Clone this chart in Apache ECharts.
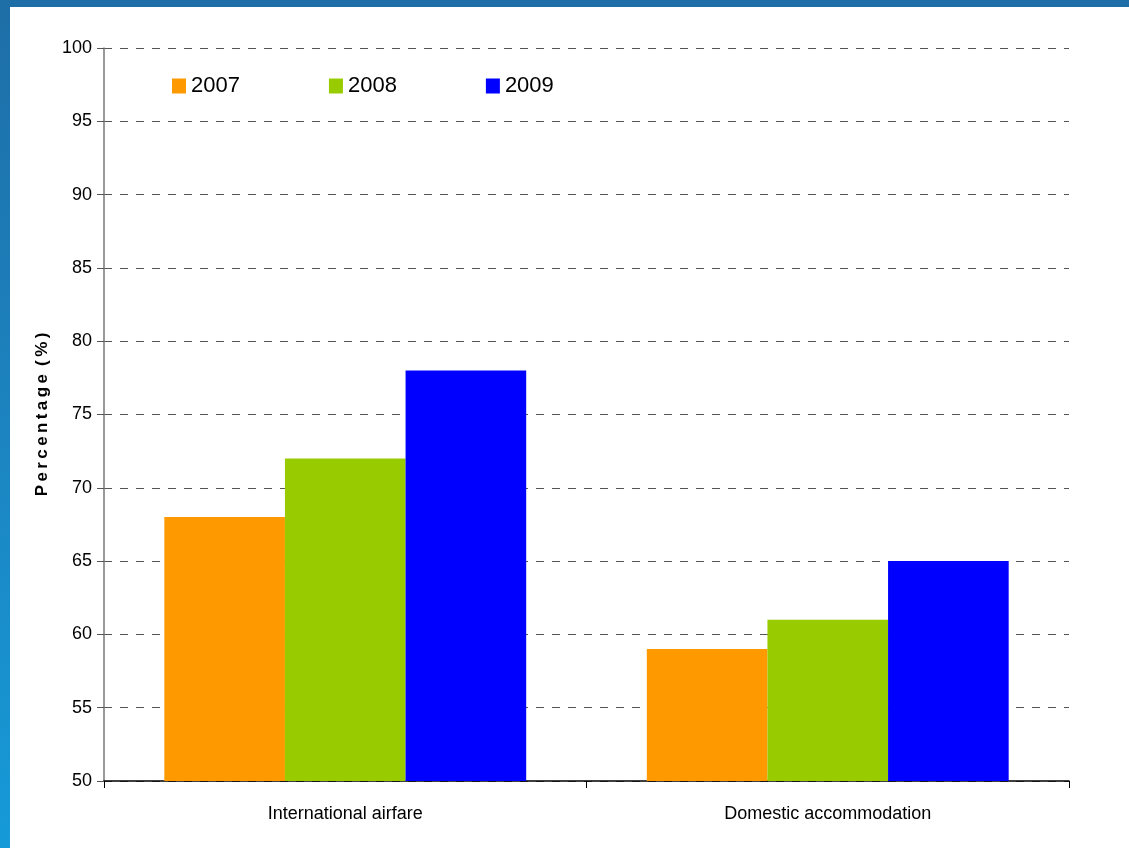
<!DOCTYPE html>
<html>
<head>
<meta charset="utf-8">
<script src="https://cdn.jsdelivr.net/npm/echarts@6/dist/echarts.min.js"></script>
<style>
  html, body { margin: 0; padding: 0; background: #fff; }
  #frameTop { position: absolute; left: 0; top: 0; width: 1129px; height: 7px; background: #1e6ea7; }
  #frameLeft { position: absolute; left: 0; top: 0; width: 10px; height: 848px;
    background: linear-gradient(to bottom, #1e6ea7 0%, #1c84c0 50%, #169ad8 100%); }
  #chart { position: absolute; left: 0; top: 0; width: 1129px; height: 848px; }
</style>
</head>
<body>
<div id="chart"></div>
<div id="frameTop"></div>
<div id="frameLeft"></div>
<script>
// Share of respondents by item and year
const categories = ['International airfare', 'Domestic accommodation'];
const seriesNames = ['2007', '2008', '2009'];
const values2007 = [68, 59];
const values2008 = [72, 61];
const values2009 = [78, 65];
const colors = ['#ff9900', '#99cc00', '#0000ff'];

const font = "'Liberation Sans', Arial, sans-serif";
const chart = echarts.init(document.getElementById('chart'));

const seriesData = [values2007, values2008, values2009];

chart.setOption({
  animation: false,
  color: colors,
  grid: { left: 104, right: 60, top: 48, bottom: 67, containLabel: false },
  legend: {
    data: seriesNames,
    left: 167, top: 70,
    itemWidth: 14, itemHeight: 15, itemGap: 89,
    icon: 'rect',
    textStyle: { fontFamily: font, fontSize: 22, color: '#000' }
  },
  xAxis: {
    type: 'category',
    data: categories,
    axisLine: { lineStyle: { color: '#000', width: 1.5 } },
    axisTick: { show: true, length: 7, lineStyle: { color: '#000' } },
    axisLabel: { fontFamily: font, fontSize: 18, color: '#000', margin: 24 }
  },
  yAxis: {
    type: 'value',
    min: 50, max: 100, interval: 5,
    name: 'P\u2009e\u2009r\u2009c\u2009e\u2009n\u2009t\u2009a\u2009g\u2009e\u2009 (\u2009%\u2009)',
    nameLocation: 'middle',
    nameGap: 50,
    nameTextStyle: { fontFamily: font, fontSize: 17, fontWeight: 'bold', color: '#000' },
    axisLine: { show: true, lineStyle: { color: '#777', width: 1.5 } },
    axisTick: { show: true, length: 7, lineStyle: { color: '#555' } },
    axisLabel: { fontFamily: font, fontSize: 18, color: '#000', margin: 12 },
    splitLine: { lineStyle: { color: '#555', type: [8, 8], width: 1 } }
  },
  series: seriesNames.map((n, i) => ({
    name: n,
    type: 'bar',
    data: seriesData[i],
    barGap: '0%',
    barCategoryGap: '25%'
  }))
});
</script>
</body>
</html>
